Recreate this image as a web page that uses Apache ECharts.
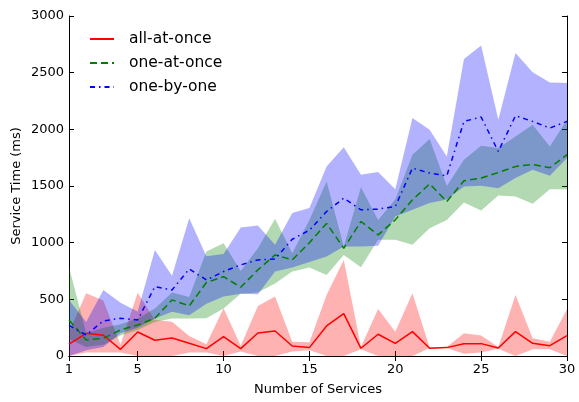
<!DOCTYPE html>
<html><head><meta charset="utf-8">
<script src="https://cdn.jsdelivr.net/npm/echarts@6/dist/echarts.min.js"></script>
<style>html,body{margin:0;padding:0;background:#fff}#c{width:579px;height:402px}</style>
</head><body><div id="c"></div>
<script>
const services = [1,2,3,4,5,6,7,8,9,10,11,12,13,14,15,16,17,18,19,20,21,22,23,24,25,26,27,28,29,30];
const xTicks = [1,5,10,15,20,25,30];
const allMean = [105,200,183,59,212,139,159,112,65,171,65,203,221,88,74,265,374,68,192,112,215,68,74,109,109,71,215,112,91,180];
const allMin  = [0,30,30,30,0,0,0,30,30,0,40,0,0,40,50,0,0,60,0,0,0,70,70,20,30,65,0,60,60,0];
const allMax  = [210,554,490,100,559,318,303,177,103,421,91,442,524,126,121,539,848,80,415,215,554,75,80,200,180,80,539,156,126,413];
const oneMean = [318,141,156,230,274,333,495,442,648,700,607,760,892,848,1000,1170,951,1187,1069,1201,1378,1519,1363,1546,1570,1619,1672,1690,1661,1776];
const oneMin  = [150,80,100,180,230,300,330,330,333,420,550,560,640,745,780,715,892,783,1025,1025,981,1128,1201,1354,1284,1416,1407,1343,1472,1472];
const oneMax  = [785,200,250,280,330,420,560,520,921,995,750,950,1210,907,1200,1540,966,1490,1200,1380,1776,1914,1500,1731,1855,1835,1937,2041,1849,2085];
const byMean  = [270,185,310,333,318,612,583,768,671,745,804,848,855,1030,1110,1275,1393,1290,1296,1319,1658,1614,1590,2070,2108,1805,2120,2070,2011,2070];
const byMin   = [0,50,80,200,250,330,390,360,460,525,550,545,745,780,830,877,966,966,972,1231,1290,1349,1380,1496,1502,1481,1570,1643,1590,1746];
const byMax   = [495,300,583,470,392,936,707,1216,880,900,1134,1151,981,1261,1305,1672,1843,1599,1623,1472,2100,1997,1761,2621,2739,2085,2674,2503,2414,2409];

const FONT = 'DejaVu Sans';
const pairs = arr => services.map((x,i)=>[x, arr[i]]);

function band(lo, hi, color){
  return {
    type:'custom', silent:true, z:1, clip:true,
    data:[[services[0], lo[0]]],
    renderItem:function(params, api){
      const pts = [];
      for (let i=0;i<services.length;i++) pts.push(api.coord([services[i], hi[i]]));
      for (let i=services.length-1;i>=0;i--) pts.push(api.coord([services[i], lo[i]]));
      return {type:'polygon', shape:{points:pts}, style:{fill:color, opacity:0.3}};
    }
  };
}

const chart = echarts.init(document.getElementById('c'), null, {renderer:'canvas'});
const axisCommon = {
  axisLine:{show:true, lineStyle:{color:'#000', width:1}},
  splitLine:{show:false},
};
chart.setOption({
  animation:false,
  backgroundColor:'#fff',
  textStyle:{fontFamily:FONT},
  grid:{left:69, right:12, top:16, bottom:46, containLabel:false},
  legend:{
    data:['all-at-once','one-at-once','one-by-one'],
    orient:'vertical', left:84, top:26, itemWidth:24, itemHeight:14, itemGap:8,
    itemStyle:{opacity:0},
    textStyle:{fontFamily:FONT, fontSize:15.5, color:'#000', padding:[0,0,0,10]}
  },
  xAxis:[
    Object.assign({type:'value', min:1, max:30, position:'bottom',
      name:'Number of Services', nameLocation:'middle', nameGap:27,
      nameTextStyle:{fontFamily:FONT, fontSize:13, color:'#000'},
      axisTick:{show:true, inside:true, length:5, customValues:xTicks, lineStyle:{color:'#000'}},
      axisLabel:{show:true, customValues:xTicks, margin:7, fontFamily:FONT, fontSize:13, color:'#000'}
    }, axisCommon),
    Object.assign({type:'value', min:1, max:30, position:'top',
      axisTick:{show:true, inside:true, length:5, customValues:xTicks, lineStyle:{color:'#000'}},
      axisLabel:{show:false}
    }, axisCommon)
  ],
  yAxis:[
    Object.assign({type:'value', min:0, max:3000, interval:500, position:'left',
      name:'Service Time (ms)', nameLocation:'middle', nameGap:46, nameMoveOverlap:false,
      nameTextStyle:{fontFamily:FONT, fontSize:13, color:'#000'},
      axisTick:{show:true, inside:true, length:5, lineStyle:{color:'#000'}},
      axisLabel:{show:true, margin:5, fontFamily:FONT, fontSize:13, color:'#000', formatter:v=>String(v)}
    }, axisCommon),
    Object.assign({type:'value', min:0, max:3000, interval:500, position:'right',
      axisTick:{show:true, inside:true, length:5, lineStyle:{color:'#000'}},
      axisLabel:{show:false}
    }, axisCommon)
  ],
  series:[
    band(allMin, allMax, '#ff0000'),
    band(oneMin, oneMax, '#008000'),
    band(byMin, byMax, '#0000ff'),
    {type:'line', name:'all-at-once', data:pairs(allMean), symbol:'none', z:3,
     itemStyle:{color:'#ff0000'}, lineStyle:{color:'#ff0000', width:1.5, type:'solid'}},
    {type:'line', name:'one-at-once', data:pairs(oneMean), symbol:'none', z:3,
     itemStyle:{color:'#008000'}, lineStyle:{color:'#008000', width:1.5, type:[7,4]}},
    {type:'line', name:'one-by-one', data:pairs(byMean), symbol:'none', z:3,
     itemStyle:{color:'#0000ff'}, lineStyle:{color:'#0000ff', width:1.5, type:[5,4,1.5,4]}}
  ]
});
</script></body></html>
